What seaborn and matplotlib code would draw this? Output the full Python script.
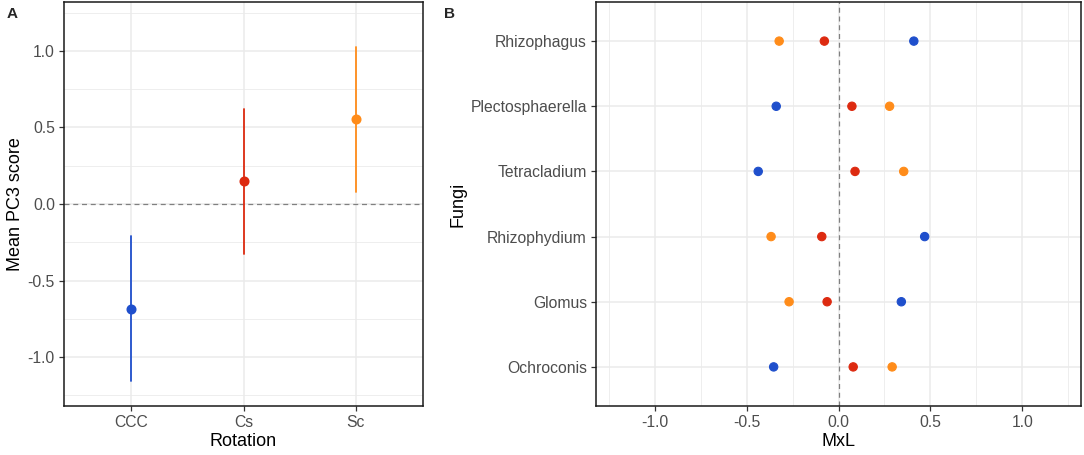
import matplotlib
matplotlib.use("Agg")
import matplotlib.pyplot as plt
import seaborn as sns
import pandas as pd
import numpy as np
from matplotlib.ticker import MultipleLocator, FormatStrFormatter

# ---------------- data ----------------
rotations = ["CCC", "Cs", "Sc"]
pc3_mean = [-0.684, 0.148, 0.556]
pc3_low = [-1.155, -0.327, 0.080]
pc3_high = [-0.209, 0.623, 1.028]

fungi = ["Rhizophagus", "Plectosphaerella", "Tetracladium",
         "Rhizophydium", "Glomus", "Ochroconis"]
mxl_ccc = [0.410, -0.339, -0.437, 0.469, 0.342, -0.353]
mxl_cs = [-0.077, 0.073, 0.090, -0.091, -0.062, 0.080]
mxl_sc = [-0.323, 0.278, 0.355, -0.367, -0.269, 0.292]

colors = {"CCC": "#1F4FCC", "Cs": "#DD2A10", "Sc": "#FF8C1A"}

# tidy tables
rowsA = []
for r, lo, m, hi in zip(rotations, pc3_low, pc3_mean, pc3_high):
    for v in (lo, m, hi):
        rowsA.append({"Rotation": r, "PC3": v})
dfA = pd.DataFrame(rowsA)

rowsB = []
for f, a, b, c in zip(fungi, mxl_ccc, mxl_cs, mxl_sc):
    rowsB.append({"Fungi": f, "Rotation": "CCC", "MxL": a})
    rowsB.append({"Fungi": f, "Rotation": "Cs", "MxL": b})
    rowsB.append({"Fungi": f, "Rotation": "Sc", "MxL": c})
dfB = pd.DataFrame(rowsB)

# ---------------- style ----------------
sns.set_theme(style="white")
plt.rcParams["font.family"] = ["Liberation Sans", "DejaVu Sans"]
plt.rcParams["xtick.bottom"] = True
plt.rcParams["ytick.left"] = True
plt.rcParams["xtick.major.size"] = 3.5
plt.rcParams["ytick.major.size"] = 3.5
plt.rcParams["xtick.major.width"] = 0.9
plt.rcParams["ytick.major.width"] = 0.9
plt.rcParams["xtick.color"] = "#333333"
plt.rcParams["ytick.color"] = "#333333"

W, H = 1084, 455
fig = plt.figure(figsize=(W / 100, H / 100), dpi=100)
ax1 = fig.add_axes([64 / W, (H - 406) / H, (423 - 64) / W, (406 - 2) / H])
ax2 = fig.add_axes([596 / W, (H - 406) / H, (1081 - 596) / W, (406 - 2) / H])

grid_col = "#EBEBEB"
tick_col = "#4D4D4D"


def style_axes(ax):
    for s in ax.spines.values():
        s.set_color("#1A1A1A")
        s.set_linewidth(1.1)
        s.set_visible(True)
    ax.tick_params(axis="both", which="major", bottom=True, left=True,
                   length=3.5, width=0.9, color="#333333",
                   labelcolor=tick_col, labelsize=11.3, direction="out", pad=3)
    ax.tick_params(axis="both", which="minor", length=0)
    ax.set_axisbelow(True)


# ---------------- panel A ----------------
sns.pointplot(data=dfA, x="Rotation", y="PC3", hue="Rotation", order=rotations,
              hue_order=rotations, palette=colors, estimator="median",
              errorbar=("pi", 100), linestyle="none", markers="o",
              markersize=5.2, err_kws={"linewidth": 1.3}, legend=False, ax=ax1)
ax1.set_xlim(0.4 - 1, 3.6 - 1)
ax1.set_ylim(-1.32, 1.32)
ax1.yaxis.set_major_locator(MultipleLocator(0.5))
ax1.yaxis.set_minor_locator(MultipleLocator(0.25))
ax1.yaxis.set_major_formatter(FormatStrFormatter("%.1f"))
ax1.grid(True, which="major", axis="both", color=grid_col, linewidth=1.1)
ax1.grid(True, which="minor", axis="y", color=grid_col, linewidth=0.6)
ax1.axhline(0, color="#808080", linestyle=(0, (4, 3)), linewidth=0.9, zorder=1.5)
ax1.set_xlabel("Rotation", fontsize=13, color="black", labelpad=2)
ax1.set_ylabel("Mean PC3 score", fontsize=13, color="black", labelpad=3)
style_axes(ax1)

# ---------------- panel B ----------------
sns.stripplot(data=dfB, x="MxL", y="Fungi", hue="Rotation", order=fungi,
              hue_order=rotations, palette=colors, jitter=False, dodge=False,
              size=6, linewidth=0.8, edgecolor="face", legend=False, ax=ax2)
ax2.set_xlim(-1.32, 1.32)
ax2.set_ylim(len(fungi) - 0.4, -0.6)
ax2.xaxis.set_major_locator(MultipleLocator(0.5))
ax2.xaxis.set_minor_locator(MultipleLocator(0.25))
ax2.xaxis.set_major_formatter(FormatStrFormatter("%.1f"))
ax2.grid(True, which="major", axis="both", color=grid_col, linewidth=1.1)
ax2.grid(True, which="minor", axis="x", color=grid_col, linewidth=0.6)
ax2.axvline(0, color="#808080", linestyle=(0, (4, 3)), linewidth=0.9, zorder=1.5)
ax2.set_xlabel("MxL", fontsize=13, color="black", labelpad=2)
ax2.set_ylabel("Fungi", fontsize=13, color="black", labelpad=3)
style_axes(ax2)

fig.text(7 / W, 1 - 14 / H, "A", fontsize=11, fontweight="bold", va="center", ha="left")
fig.text(444 / W, 1 - 14 / H, "B", fontsize=11, fontweight="bold", va="center", ha="left")

fig.savefig("out.png", dpi=100, facecolor="white")
